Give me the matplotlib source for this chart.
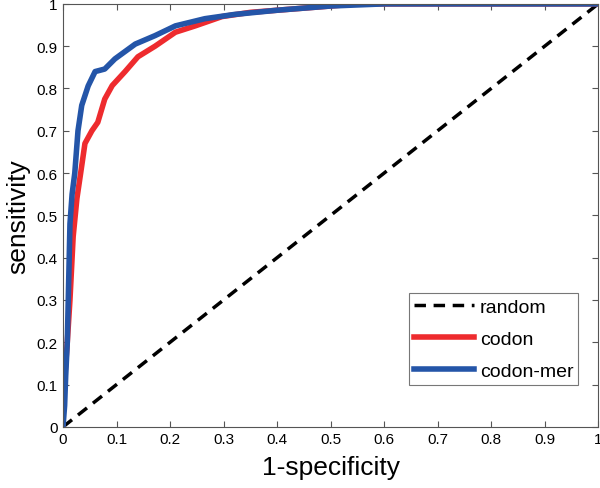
import numpy as np
import matplotlib.pyplot as plt

plt.rcParams['font.family'] = ['Liberation Sans', 'DejaVu Sans']

# ROC curves
fpr_codon = [0, 0, 0.004, 0.008, 0.013, 0.019, 0.026, 0.033, 0.041, 0.054, 0.065,
             0.078, 0.092, 0.116, 0.14, 0.172, 0.21, 0.247, 0.297, 0.35, 0.45, 0.55, 1.0]
tpr_codon = [0, 0.1, 0.13, 0.2, 0.3, 0.45, 0.54, 0.6, 0.67, 0.70, 0.72,
             0.775, 0.807, 0.84, 0.875, 0.90, 0.933, 0.948, 0.97, 0.98, 0.99, 1.0, 1.0]

fpr_mer = [0, 0.003, 0.005, 0.008, 0.010, 0.013, 0.017, 0.022, 0.028, 0.035, 0.047,
           0.06, 0.078, 0.097, 0.135, 0.172, 0.21, 0.265, 0.32, 0.4, 0.5, 0.6, 1.0]
tpr_mer = [0, 0.05, 0.12, 0.2, 0.31, 0.48, 0.55, 0.6, 0.70, 0.76, 0.806,
           0.84, 0.846, 0.87, 0.905, 0.925, 0.948, 0.965, 0.975, 0.985, 0.995, 1.0, 1.0]

ticks = [0, 0.1, 0.2, 0.3, 0.4, 0.5, 0.6, 0.7, 0.8, 0.9, 1]
tick_labels = ["0", "0.1", "0.2", "0.3", "0.4", "0.5", "0.6", "0.7", "0.8", "0.9", "1"]

fig = plt.figure(figsize=(6, 4.89), dpi=100)
ax = fig.add_axes([0.105, 0.125, 0.892, 0.865])

ax.plot([0, 1], [0, 1], color="black", linestyle=(0, (3.3, 2.2)), linewidth=2.5, label="random")
ax.plot(fpr_codon, tpr_codon, color="#ee2b2e", linewidth=4, label="codon")
ax.plot(fpr_mer, tpr_mer, color="#2455a8", linewidth=4, label="codon-mer")

ax.set_xlim(0, 1)
ax.set_ylim(0, 1)
ax.set_xticks(ticks)
ax.set_xticklabels(tick_labels)
ax.set_yticks(ticks)
ax.set_yticklabels(tick_labels)
ax.tick_params(direction="in", top=True, right=True, labelsize=11, length=4,
               color="#555555", pad=4)
for s in ax.spines.values():
    s.set_color("#555555")
    s.set_linewidth(0.8)

ax.set_xlabel("1-specificity", fontsize=19, labelpad=6)
ax.set_ylabel("sensitivity", fontsize=19, labelpad=4)

leg = ax.legend(loc="lower right", bbox_to_anchor=(0.97, 0.09), fontsize=14,
                fancybox=False, edgecolor="#555555", handlelength=3.1,
                borderpad=0.25, labelspacing=0.75, handletextpad=0.3,
                borderaxespad=0.2)
leg.get_frame().set_linewidth(0.8)

fig.savefig("out.png", dpi=100)
